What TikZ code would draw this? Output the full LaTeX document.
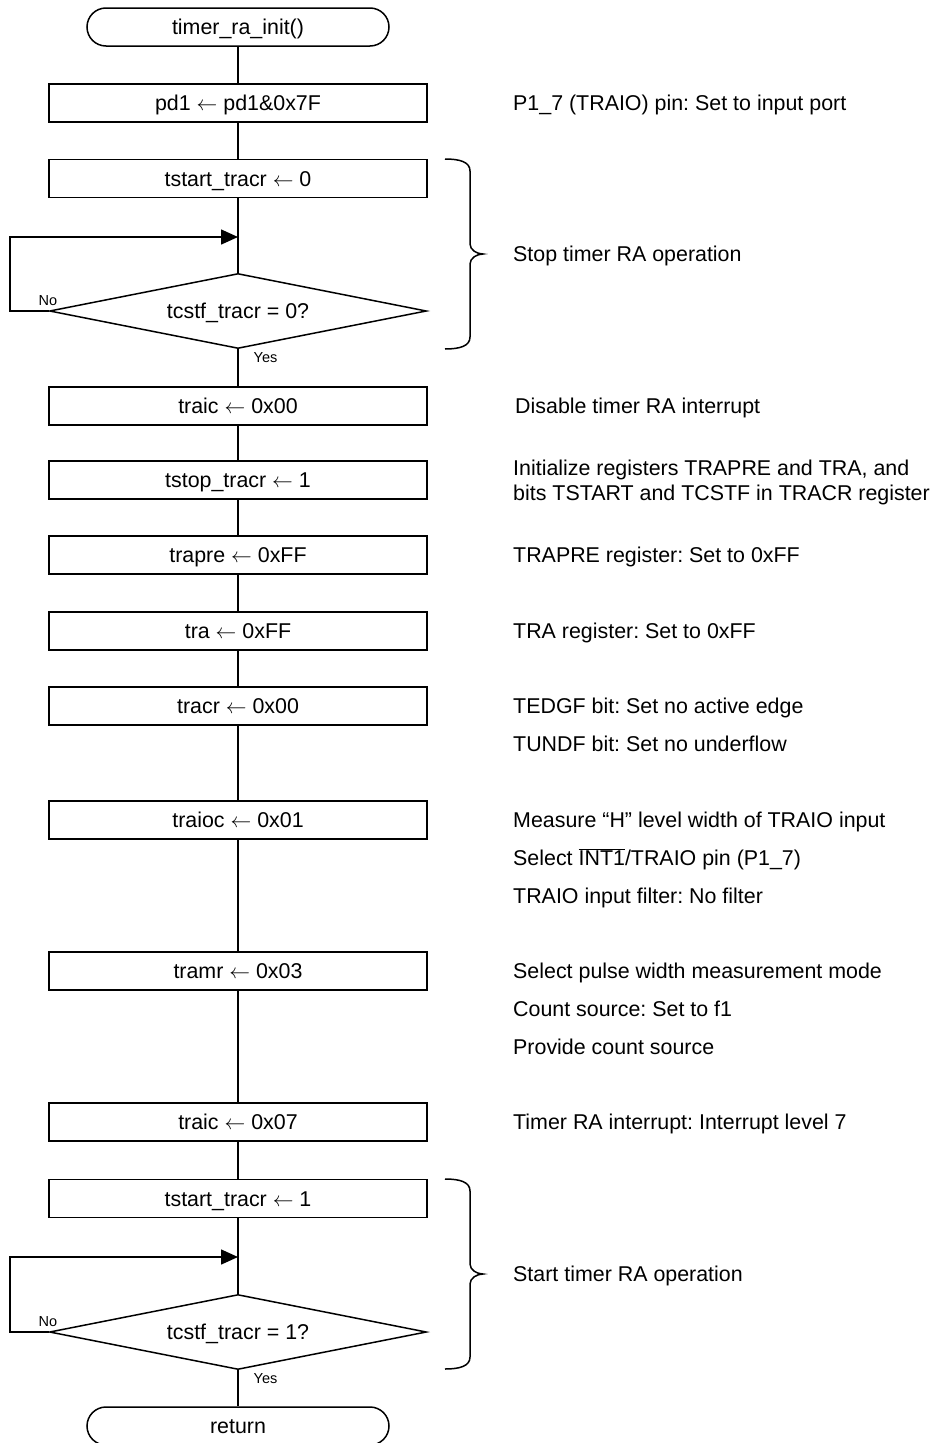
\documentclass[tikz,border=0pt]{standalone}
\usepackage{fontspec}
\setmainfont{Liberation Sans}
\usetikzlibrary{shapes.geometric,arrows.meta}
\newcommand{\mainfs}{\fontsize{21.4}{25}\selectfont\frenchspacing}
\tikzset{
  flow/.style={line width=1.5pt},
  proc/.style={draw, line width=1.5pt, minimum width=378pt, minimum height=38pt, inner sep=0pt, font=\mainfs, text height=17pt, text depth=1.8pt},
  term/.style={proc, rounded corners=19pt, minimum width=302pt},
  dec/.style={draw, diamond, aspect=5, minimum width=377pt, minimum height=75pt, inner sep=0pt, line width=1.5pt, font=\mainfs, text height=17pt, text depth=1.8pt},
  note/.style={anchor=west, inner sep=0pt, font=\mainfs, align=left, text height=17pt, text depth=1.8pt},
  small/.style={font=\fontsize{14.5}{17}\selectfont, inner sep=0pt},
  loopback/.style={flow, -{Triangle[length=17pt,width=15pt]}},
  bracepath/.style={line width=1.5pt},
  pics/mybrace/.style={code={
    \draw[bracepath] (445,159) .. controls (460,159) and (470,162) .. (470,171)
      -- (470,244) .. controls (470,250) and (477,254) .. (483,254)
      .. controls (477,254) and (470,258) .. (470,264)
      -- (470,337) .. controls (470,346) and (460,349) .. (445,349);
  }}
}
\begin{document}
\begin{tikzpicture}[x=1pt,y=-1pt]
\useasboundingbox (0,0) rectangle (934,1443);

% flow nodes
\node[term] (start) at (238,27) {timer\_ra\_init()};
\node[proc] (b1) at (238,103) {pd1 $\leftarrow$ pd1\&0x7F};
\node[proc] (b2) at (238,178.5) {tstart\_tracr $\leftarrow$ 0};
\coordinate (j1) at (238,237);
\node[dec] (d1) at (238,311) {tcstf\_tracr = 0?};
\node[proc] (b3) at (238,406) {traic $\leftarrow$ 0x00};
\node[proc] (b4) at (238,480) {tstop\_tracr $\leftarrow$ 1};
\node[proc] (b5) at (238,555) {trapre $\leftarrow$ 0xFF};
\node[proc] (b6) at (238,631) {tra $\leftarrow$ 0xFF};
\node[proc] (b7) at (238,706) {tracr $\leftarrow$ 0x00};
\node[proc] (b8) at (238,820) {traioc $\leftarrow$ 0x01};
\node[proc] (b9) at (238,971) {tramr $\leftarrow$ 0x03};
\node[proc] (b10) at (238,1122) {traic $\leftarrow$ 0x07};
\node[proc] (b11) at (238,1198.5) {tstart\_tracr $\leftarrow$ 1};
\coordinate (j2) at (238,1257);
\node[dec] (d2) at (238,1332) {tcstf\_tracr = 1?};
\node[term] (ret) at (238,1426) {return};

% connectors
\draw[flow] (start) -- (b1);
\draw[flow] (b1) -- (b2);
\draw[flow] (b2) -- (d1);
\draw[flow] (d1) -- (b3);
\draw[flow] (b3) -- (b4);
\draw[flow] (b4) -- (b5);
\draw[flow] (b5) -- (b6);
\draw[flow] (b6) -- (b7);
\draw[flow] (b7) -- (b8);
\draw[flow] (b8) -- (b9);
\draw[flow] (b9) -- (b10);
\draw[flow] (b10) -- (b11);
\draw[flow] (b11) -- (d2);
\draw[flow] (d2) -- (ret);
\draw[loopback] (d1.west) -- ++(-39,0) |- (j1);
\draw[loopback] (d2.west) -- ++(-39,0) |- (j2);

% branch labels
\node[small] (no1) at (48,301) {No};
\node[small] (yes1) at (265.5,358) {Yes};
\node[small] (no2) at (48,1322) {No};
\node[small] (yes2) at (265.5,1379) {Yes};

% braces
\pic (br1) at (0,0) {mybrace};
\pic (br2) at (0,1020) {mybrace};

% notes
\node[note] (n1) at (513,103) {P1\_7 (TRAIO) pin: Set to input port};
\node[note] (n2) at (513,254) {Stop timer RA operation};
\node[note] (n3) at (515,406) {Disable timer RA interrupt};
\node[note] (n4) at (513,492.5) {Initialize registers TRAPRE and TRA, and\\bits TSTART and TCSTF in TRACR register};
\node[note] (n5) at (513,555) {TRAPRE register: Set to 0xFF};
\node[note] (n6) at (513,631) {TRA register: Set to 0xFF};
\node[note] (n7) at (513,706) {TEDGF bit: Set no active edge};
\node[note] (n8) at (513,744) {TUNDF bit: Set no underflow};
\node[note] (n9) at (513,820) {Measure “H” level width of TRAIO input};
\node[note] (n10) at (513,858) {Select $\overline{\hbox{INT1}}$/TRAIO pin (P1\_7)};
\node[note] (n11) at (513,896) {TRAIO input filter: No filter};
\node[note] (n12) at (513,971) {Select pulse width measurement mode};
\node[note] (n13) at (513,1009) {Count source: Set to f1};
\node[note] (n14) at (513,1047) {Provide count source};
\node[note] (n15) at (513,1122) {Timer RA interrupt: Interrupt level 7};
\node[note] (n16) at (513,1274) {Start timer RA operation};
\end{tikzpicture}
\end{document}
